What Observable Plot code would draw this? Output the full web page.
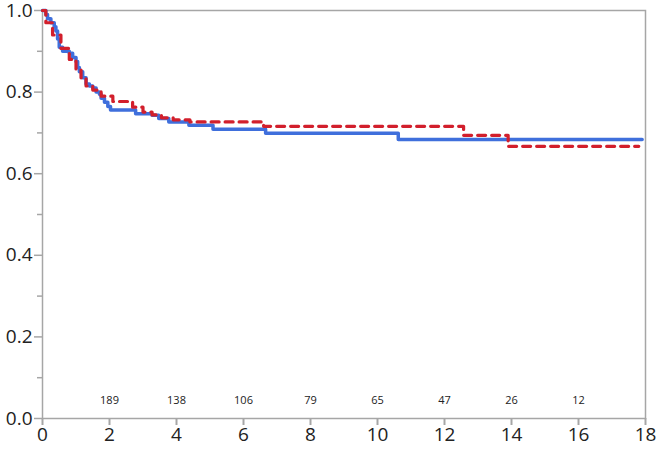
<!DOCTYPE html>
<html>
<head>
<meta charset="utf-8">
<script src="https://cdn.jsdelivr.net/npm/d3@7"></script>
<script src="https://cdn.jsdelivr.net/npm/@observablehq/plot@0.6"></script>
<style>
  html, body { margin: 0; padding: 0; background: #fff; }
  svg { display: block; }
</style>
</head>
<body>
<div id="chart"></div>
<script>
// Blue (solid) survival curve: time, survival
const blueTime = [0, 0.1, 0.15, 0.25, 0.35, 0.4, 0.45, 0.5, 0.6, 0.8, 0.9, 1.0, 1.05, 1.1, 1.2, 1.3, 1.4, 1.5, 1.6, 1.7, 1.75, 1.85, 1.95, 2.03, 2.78, 3.27, 3.47, 3.77, 4.37, 5.09, 6.66, 10.62, 17.9];
const blueSurv = [1.0, 0.99, 0.98, 0.97, 0.96, 0.95, 0.93, 0.91, 0.90, 0.895, 0.885, 0.875, 0.86, 0.85, 0.835, 0.82, 0.815, 0.81, 0.80, 0.795, 0.785, 0.775, 0.765, 0.756, 0.747, 0.743, 0.735, 0.727, 0.719, 0.709, 0.699, 0.684, 0.684];

// Red (dashed) survival curve: time, survival
const redTime = [0, 0.1, 0.3, 0.55, 0.8, 1.0, 1.15, 1.3, 1.5, 1.75, 2.1, 2.69, 3.0, 3.27, 3.55, 3.9, 4.4, 6.6, 12.57, 13.9, 17.8];
const redSurv = [1.0, 0.97, 0.94, 0.907, 0.88, 0.855, 0.835, 0.815, 0.805, 0.79, 0.777, 0.763, 0.751, 0.744, 0.737, 0.732, 0.727, 0.716, 0.694, 0.667, 0.667];

// Numbers at risk
const riskTime = [2, 4, 6, 8, 10, 12, 14, 16];
const riskCount = [189, 138, 106, 79, 65, 47, 26, 12];

// Axis ticks
const xTicks = [0, 2, 4, 6, 8, 10, 12, 14, 16, 18];
const yMajor = [0, 0.2, 0.4, 0.6, 0.8, 1.0];
const yMinor = [0.1, 0.3, 0.5, 0.7, 0.9];

const blue = blueTime.map((t, i) => ({t, s: blueSurv[i]}));
const red = redTime.map((t, i) => ({t, s: redSurv[i]}));
const risk = riskTime.map((t, i) => ({t, n: riskCount[i]}));

const axisColor = "#a6a6a6";

const chart = Plot.plot({
  width: 657,
  height: 450,
  marginLeft: 42,
  marginRight: 12,
  marginTop: 10,
  marginBottom: 32,
  style: {fontFamily: "'Open Sans', sans-serif", background: "#fff", color: "#222"},
  x: {domain: [0, 18]},
  y: {domain: [0, 1]},
  marks: [
    Plot.frame({stroke: axisColor, strokeWidth: 1.5}),
    Plot.axisX(xTicks, {tickSize: 7, tickPadding: 2, stroke: axisColor, strokeWidth: 2, fontSize: 19, fill: "#222", label: null, tickFormat: d => d}),
    Plot.axisY(yMajor, {tickSize: 8, tickPadding: 2, stroke: axisColor, strokeWidth: 1.5, fontSize: 19, fill: "#222", label: null, tickFormat: d3.format(".1f")}),
    Plot.axisY(yMinor, {tickSize: 5, stroke: axisColor, strokeWidth: 1.5, label: null, tickFormat: () => ""}),
    Plot.text(risk, {x: "t", text: "n", frameAnchor: "bottom", dy: -15, fontSize: 11, fill: "#222"}),
    Plot.line(blue, {x: "t", y: "s", curve: "step-after", stroke: "#3f6fdc", strokeWidth: 3.5}),
    Plot.line(red, {x: "t", y: "s", curve: "step-after", stroke: "#d21f2c", strokeWidth: 3.2, strokeDasharray: "8,6"})
  ]
});
document.getElementById("chart").append(chart);
</script>
</body>
</html>
